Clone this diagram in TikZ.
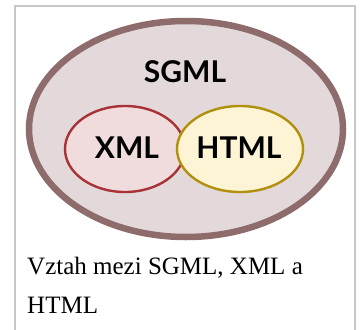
\documentclass[tikz,border=0pt]{standalone}
\usepackage{xcolor}
\usepackage{fontspec}
\setmainfont{Liberation Serif}
\newfontfamily\labelfont{Lato}
\usepackage{tikz}

\definecolor{sgmlline}{HTML}{8E6C6C}
\definecolor{sgmlfill}{HTML}{E3D9DB}
\definecolor{xmlline}{HTML}{A83236}
\definecolor{xmlfill}{HTML}{F0DCDC}
\definecolor{htmlline}{HTML}{B0900C}
\definecolor{htmlfill}{HTML}{FDF4D6}
\definecolor{frameline}{HTML}{C8C8C8}

\tikzset{
  setlabel/.style={font=\labelfont\bfseries\fontsize{30}{30}\selectfont, inner sep=0pt},
  caption/.style={font=\fontsize{25}{38}\selectfont, inner sep=0pt, anchor=base west}
}

\begin{document}
\begin{tikzpicture}[x=1pt, y=-1pt]
        \useasboundingbox (0, 0) rectangle (363, 329);
        \draw[frameline, line width=1.2pt] (15, 340) -- (15, 6) -- (355, 6) -- (355, 340);

        \filldraw[sgmlline, fill=sgmlfill, line width=6.5pt] (186, 129) ellipse (157 and 108);
        \filldraw[xmlline, fill=xmlfill, line width=2.4pt] (125, 149) ellipse (60 and 43);
        \filldraw[htmlline, fill=htmlfill, line width=2.4pt] (240, 149) ellipse (63 and 43);

        \node[setlabel] (sgml) at (185, 72) {SGML};
        \node[setlabel] (xml) at (127, 148) {XML};
        \node[setlabel] (html) at (239, 148) {HTML};

        \node[caption] (line1) at (27, 274) {Vztah mezi SGML, XML a};
        \node[caption] (line2) at (27, 313) {HTML};
    \end{tikzpicture}
\end{document}
